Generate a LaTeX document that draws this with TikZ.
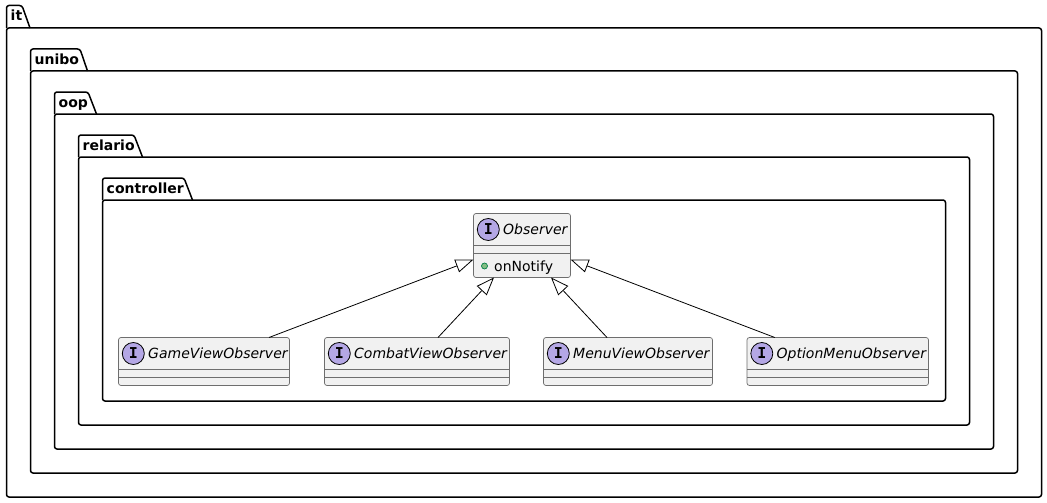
\documentclass[tikz,border=0pt]{standalone}
\usepackage{fontspec}
\setmainfont{DejaVu Sans}
\newfontfamily\glyphfont{DejaVu Sans Mono}
\usetikzlibrary{arrows.meta}
\definecolor{classfill}{HTML}{F1F1F1}
\definecolor{classline}{HTML}{6E6E6E}
\definecolor{ifacefill}{HTML}{B4A7E5}
\definecolor{dotfill}{HTML}{84BE84}
\definecolor{dotline}{HTML}{038048}
\tikzset{
  pkgline/.style={draw=black,line width=1.5pt,line join=round},
  pkglabel/.style={anchor=base west,inner sep=0pt,font=\fontsize{14}{16}\selectfont\bfseries},
  classbox/.style={draw=classline,line width=0.7pt,fill=classfill,rounded corners=2.5pt,inner sep=0pt,outer sep=0pt},
  classsep/.style={draw=classline,line width=0.7pt},
  classlabel/.style={anchor=base west,inner sep=0pt,font=\fontsize{14}{16}\selectfont\itshape},
  ifacebadge/.style={circle,draw=black,line width=0.8pt,fill=ifacefill,minimum size=22pt,inner sep=0pt,font=\glyphfont\fontsize{15}{15}\selectfont\bfseries},
  inherit/.style={draw=black,line width=0.8pt,{Triangle[open,length=18pt,width=13.5pt,fill=white]}-},
}
% name, left, tab top, tab top right, tab bottom right, head y, label baseline, right, bottom
\newcommand{\pkgbox}[9]{%
  \draw[pkgline,rounded corners=2.5pt] (#2,#6) -- (#2,#3) -- (#4,#3) -- (#5,#6);
  \draw[pkgline,rounded corners=2.5pt] (#2,#6) -- (#8,#6) -- (#8,#9) -- (#2,#9) -- cycle;
  \node[pkglabel] (#1) at (#2+4,#7) {#1};
}
% name, left, right, top, sep1, sep2, bottom, label
\newcommand{\ifacebox}[8]{%
  \node[classbox,minimum width=#3pt-#2pt,minimum height=#7pt-#4pt] (#1) at ({(#2+#3)/2},{(#4+#7)/2}) {};
  \draw[classsep] (#2,#5) -- (#3,#5);
  \draw[classsep] (#2,#6) -- (#3,#6);
  \node[ifacebadge] (#1badge) at (#2+14.8,#4+16) {I};
  \node[classlabel] (#1label) at (#2+29.5,#4+20.8) {#8};
}
\begin{document}
\begin{tikzpicture}[x=1pt,y=-1pt]
\useasboundingbox (0,0) rectangle (1047,503);
\fill[white] (0,0) rectangle (1047,503);
\pkgbox{it}{6.5}{5.5}{22}{30}{28}{20.7}{1041.5}{497}
\pkgbox{unibo}{30.5}{49}{80}{87.5}{71}{64.2}{1017.5}{473}
\pkgbox{oop}{54.5}{92}{88}{96.5}{114}{107.2}{993.5}{449}
\pkgbox{relario}{78.5}{135}{134}{142.5}{157}{150.2}{969.5}{425}
\pkgbox{controller}{102.5}{178}{184}{192.5}{200}{193.2}{945.5}{401}

\ifacebox{Observer}{473.5}{570.5}{213.5}{245.5}{253.5}{277.5}{Observer}
\node[circle,draw=dotline,line width=0.7pt,fill=dotfill,minimum size=6pt,inner sep=0pt] (notifydot) at (484.5,266) {};
\node[anchor=base west,inner sep=0pt,font=\fontsize{14}{16}\selectfont] (notifylabel) at (494,271) {onNotify};
\ifacebox{game}{118.5}{289.5}{337.5}{369.5}{377.5}{385.5}{GameViewObserver}
\ifacebox{combat}{324.5}{509.5}{337.5}{369.5}{377.5}{385.5}{CombatViewObserver}
\ifacebox{menu}{543.5}{712.5}{337.5}{369.5}{377.5}{385.5}{MenuViewObserver}
\ifacebox{option}{747}{928.5}{337.5}{369.5}{377.5}{385.5}{OptionMenuObserver}

\draw[inherit] ([yshift=-14pt]Observer.west) -- ([xshift=65pt]game.north);
\draw[inherit] ([xshift=-28pt]Observer.south) -- ([xshift=21pt]combat.north);
\draw[inherit] ([xshift=29pt]Observer.south) -- ([xshift=-21pt]menu.north);
\draw[inherit] ([yshift=-14pt]Observer.east) -- ([xshift=-63pt]option.north);
\end{tikzpicture}
\end{document}
